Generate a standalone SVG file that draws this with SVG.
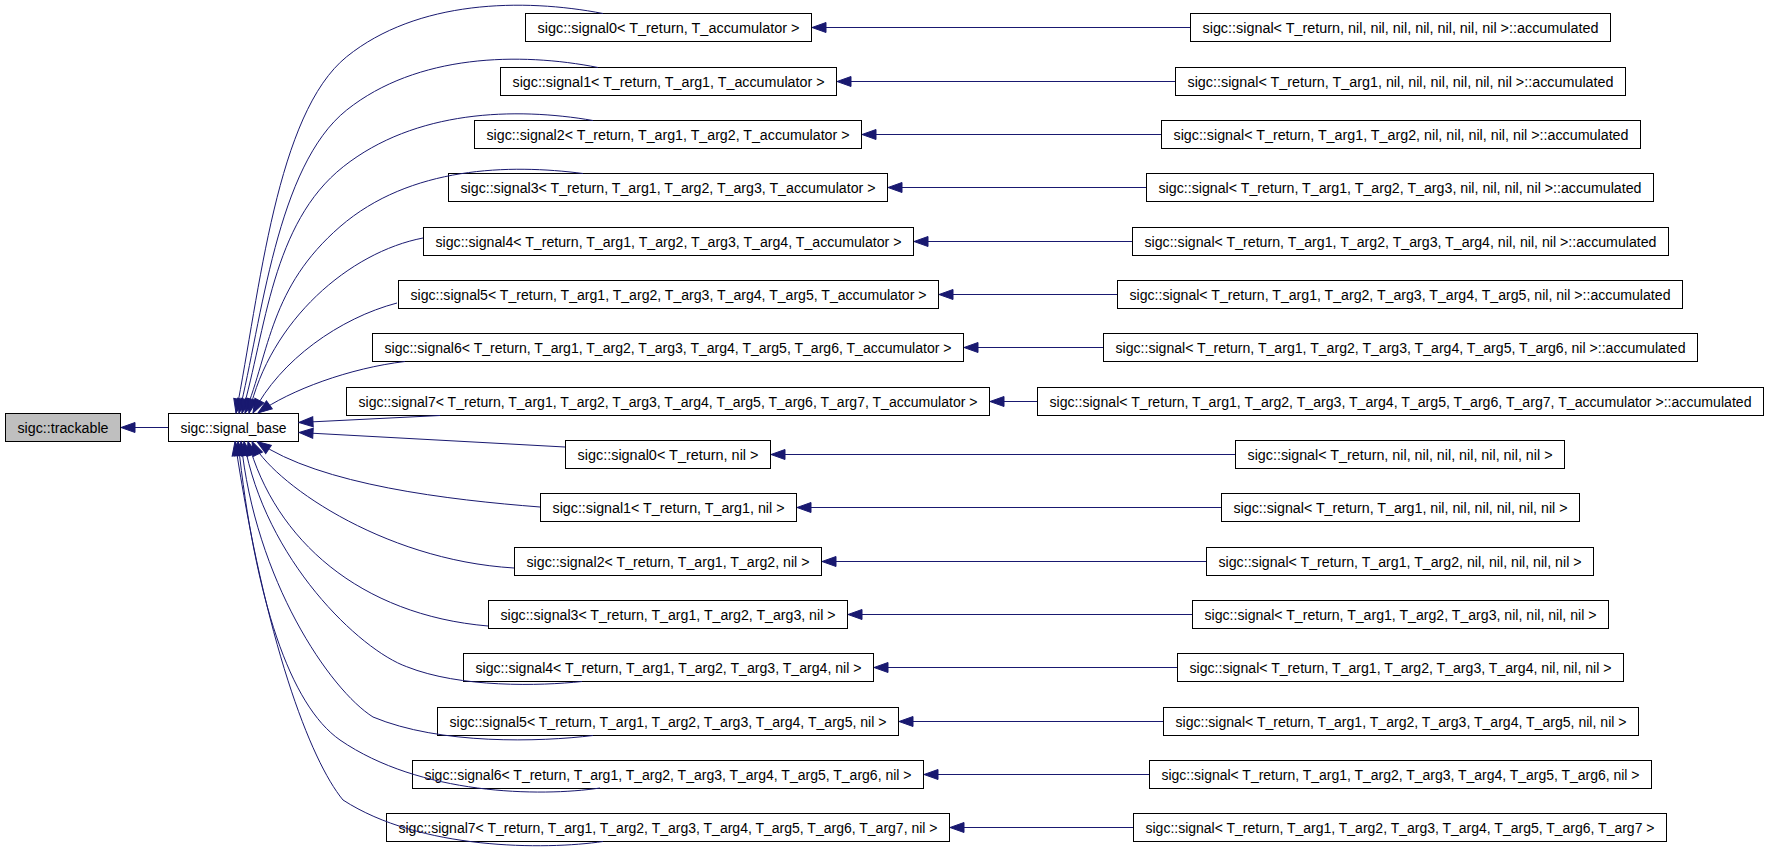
<svg xmlns="http://www.w3.org/2000/svg" width="1768" height="855" viewBox="0 0 1768 855">
<defs>
<style>
.node rect{fill:#ffffff;stroke:#000000;stroke-width:1}
.node.gray rect{fill:#bfbfbf}
.node text{font-family:"Liberation Sans",Arial,sans-serif;font-size:14px;fill:#000000;text-anchor:middle}
.edge{fill:none;stroke:#191970;stroke-width:1;marker-end:url(#arr)}
</style>
<marker id="arr" markerUnits="userSpaceOnUse" markerWidth="16" markerHeight="12" viewBox="0 0 16 12" refX="15" refY="6" orient="auto">
<path d="M1,1 L15,6 L1,11 z" fill="#191970" stroke="#191970" stroke-width="1"/>
</marker>
</defs>
<rect x="0" y="0" width="1768" height="855" fill="#ffffff"/>

<g id="n_trackable" class="node gray"><rect x="5.5" y="413.5" width="115" height="28"/><text x="63" y="433" textLength="91" lengthAdjust="spacingAndGlyphs">sigc::trackable</text></g>
<g id="n_signal_base" class="node"><rect x="168.5" y="413.5" width="130" height="28"/><text x="233.5" y="433" textLength="106" lengthAdjust="spacingAndGlyphs">sigc::signal_base</text></g>

<g id="n_s0acc" class="node"><rect x="525.5" y="13.5" width="286" height="28"/><text x="668.5" y="33" textLength="262" lengthAdjust="spacingAndGlyphs">sigc::signal0&lt; T_return, T_accumulator &gt;</text></g>
<g id="n_s1acc" class="node"><rect x="500.5" y="67.5" width="336" height="28"/><text x="668.5" y="87" textLength="312" lengthAdjust="spacingAndGlyphs">sigc::signal1&lt; T_return, T_arg1, T_accumulator &gt;</text></g>
<g id="n_s2acc" class="node"><rect x="474.5" y="120.5" width="387" height="28"/><text x="668" y="140" textLength="363" lengthAdjust="spacingAndGlyphs">sigc::signal2&lt; T_return, T_arg1, T_arg2, T_accumulator &gt;</text></g>
<g id="n_s3acc" class="node"><rect x="448.5" y="173.5" width="439" height="28"/><text x="668" y="193" textLength="415" lengthAdjust="spacingAndGlyphs">sigc::signal3&lt; T_return, T_arg1, T_arg2, T_arg3, T_accumulator &gt;</text></g>
<g id="n_s4acc" class="node"><rect x="423.5" y="227.5" width="490" height="28"/><text x="668.5" y="247" textLength="466" lengthAdjust="spacingAndGlyphs">sigc::signal4&lt; T_return, T_arg1, T_arg2, T_arg3, T_arg4, T_accumulator &gt;</text></g>
<g id="n_s5acc" class="node"><rect x="398.5" y="280.5" width="540" height="28"/><text x="668.5" y="300" textLength="516" lengthAdjust="spacingAndGlyphs">sigc::signal5&lt; T_return, T_arg1, T_arg2, T_arg3, T_arg4, T_arg5, T_accumulator &gt;</text></g>
<g id="n_s6acc" class="node"><rect x="372.5" y="333.5" width="591" height="28"/><text x="668" y="353" textLength="567" lengthAdjust="spacingAndGlyphs">sigc::signal6&lt; T_return, T_arg1, T_arg2, T_arg3, T_arg4, T_arg5, T_arg6, T_accumulator &gt;</text></g>
<g id="n_s7acc" class="node"><rect x="346.5" y="387.5" width="643" height="28"/><text x="668" y="407" textLength="619" lengthAdjust="spacingAndGlyphs">sigc::signal7&lt; T_return, T_arg1, T_arg2, T_arg3, T_arg4, T_arg5, T_arg6, T_arg7, T_accumulator &gt;</text></g>
<g id="n_s0nil" class="node"><rect x="565.5" y="440.5" width="205" height="28"/><text x="668" y="460" textLength="181" lengthAdjust="spacingAndGlyphs">sigc::signal0&lt; T_return, nil &gt;</text></g>
<g id="n_s1nil" class="node"><rect x="540.5" y="493.5" width="256" height="28"/><text x="668.5" y="513" textLength="232" lengthAdjust="spacingAndGlyphs">sigc::signal1&lt; T_return, T_arg1, nil &gt;</text></g>
<g id="n_s2nil" class="node"><rect x="514.5" y="547.5" width="307" height="28"/><text x="668" y="567" textLength="283" lengthAdjust="spacingAndGlyphs">sigc::signal2&lt; T_return, T_arg1, T_arg2, nil &gt;</text></g>
<g id="n_s3nil" class="node"><rect x="488.5" y="600.5" width="359" height="28"/><text x="668" y="620" textLength="335" lengthAdjust="spacingAndGlyphs">sigc::signal3&lt; T_return, T_arg1, T_arg2, T_arg3, nil &gt;</text></g>
<g id="n_s4nil" class="node"><rect x="463.5" y="653.5" width="410" height="28"/><text x="668.5" y="673" textLength="386" lengthAdjust="spacingAndGlyphs">sigc::signal4&lt; T_return, T_arg1, T_arg2, T_arg3, T_arg4, nil &gt;</text></g>
<g id="n_s5nil" class="node"><rect x="437.5" y="707.5" width="461" height="28"/><text x="668" y="727" textLength="437" lengthAdjust="spacingAndGlyphs">sigc::signal5&lt; T_return, T_arg1, T_arg2, T_arg3, T_arg4, T_arg5, nil &gt;</text></g>
<g id="n_s6nil" class="node"><rect x="412.5" y="760.5" width="511" height="28"/><text x="668" y="780" textLength="487" lengthAdjust="spacingAndGlyphs">sigc::signal6&lt; T_return, T_arg1, T_arg2, T_arg3, T_arg4, T_arg5, T_arg6, nil &gt;</text></g>
<g id="n_s7nil" class="node"><rect x="386.5" y="813.5" width="563" height="28"/><text x="668" y="833" textLength="539" lengthAdjust="spacingAndGlyphs">sigc::signal7&lt; T_return, T_arg1, T_arg2, T_arg3, T_arg4, T_arg5, T_arg6, T_arg7, nil &gt;</text></g>

<g id="n_r0acc" class="node"><rect x="1190.5" y="13.5" width="420" height="28"/><text x="1400.5" y="33" textLength="396" lengthAdjust="spacingAndGlyphs">sigc::signal&lt; T_return, nil, nil, nil, nil, nil, nil, nil &gt;::accumulated</text></g>
<g id="n_r1acc" class="node"><rect x="1175.5" y="67.5" width="450" height="28"/><text x="1400.5" y="87" textLength="426" lengthAdjust="spacingAndGlyphs">sigc::signal&lt; T_return, T_arg1, nil, nil, nil, nil, nil, nil &gt;::accumulated</text></g>
<g id="n_r2acc" class="node"><rect x="1161.5" y="120.5" width="479" height="28"/><text x="1401" y="140" textLength="455" lengthAdjust="spacingAndGlyphs">sigc::signal&lt; T_return, T_arg1, T_arg2, nil, nil, nil, nil, nil &gt;::accumulated</text></g>
<g id="n_r3acc" class="node"><rect x="1146.5" y="173.5" width="507" height="28"/><text x="1400" y="193" textLength="483" lengthAdjust="spacingAndGlyphs">sigc::signal&lt; T_return, T_arg1, T_arg2, T_arg3, nil, nil, nil, nil &gt;::accumulated</text></g>
<g id="n_r4acc" class="node"><rect x="1132.5" y="227.5" width="536" height="28"/><text x="1400.5" y="247" textLength="512" lengthAdjust="spacingAndGlyphs">sigc::signal&lt; T_return, T_arg1, T_arg2, T_arg3, T_arg4, nil, nil, nil &gt;::accumulated</text></g>
<g id="n_r5acc" class="node"><rect x="1117.5" y="280.5" width="565" height="28"/><text x="1400" y="300" textLength="541" lengthAdjust="spacingAndGlyphs">sigc::signal&lt; T_return, T_arg1, T_arg2, T_arg3, T_arg4, T_arg5, nil, nil &gt;::accumulated</text></g>
<g id="n_r6acc" class="node"><rect x="1103.5" y="333.5" width="594" height="28"/><text x="1400.5" y="353" textLength="570" lengthAdjust="spacingAndGlyphs">sigc::signal&lt; T_return, T_arg1, T_arg2, T_arg3, T_arg4, T_arg5, T_arg6, nil &gt;::accumulated</text></g>
<g id="n_r7acc" class="node"><rect x="1037.5" y="387.5" width="726" height="28"/><text x="1400.5" y="407" textLength="702" lengthAdjust="spacingAndGlyphs">sigc::signal&lt; T_return, T_arg1, T_arg2, T_arg3, T_arg4, T_arg5, T_arg6, T_arg7, T_accumulator &gt;::accumulated</text></g>
<g id="n_r0nil" class="node"><rect x="1235.5" y="440.5" width="329" height="28"/><text x="1400" y="460" textLength="305" lengthAdjust="spacingAndGlyphs">sigc::signal&lt; T_return, nil, nil, nil, nil, nil, nil, nil &gt;</text></g>
<g id="n_r1nil" class="node"><rect x="1221.5" y="493.5" width="358" height="28"/><text x="1400.5" y="513" textLength="334" lengthAdjust="spacingAndGlyphs">sigc::signal&lt; T_return, T_arg1, nil, nil, nil, nil, nil, nil &gt;</text></g>
<g id="n_r2nil" class="node"><rect x="1206.5" y="547.5" width="387" height="28"/><text x="1400" y="567" textLength="363" lengthAdjust="spacingAndGlyphs">sigc::signal&lt; T_return, T_arg1, T_arg2, nil, nil, nil, nil, nil &gt;</text></g>
<g id="n_r3nil" class="node"><rect x="1192.5" y="600.5" width="416" height="28"/><text x="1400.5" y="620" textLength="392" lengthAdjust="spacingAndGlyphs">sigc::signal&lt; T_return, T_arg1, T_arg2, T_arg3, nil, nil, nil, nil &gt;</text></g>
<g id="n_r4nil" class="node"><rect x="1177.5" y="653.5" width="446" height="28"/><text x="1400.5" y="673" textLength="422" lengthAdjust="spacingAndGlyphs">sigc::signal&lt; T_return, T_arg1, T_arg2, T_arg3, T_arg4, nil, nil, nil &gt;</text></g>
<g id="n_r5nil" class="node"><rect x="1163.5" y="707.5" width="475" height="28"/><text x="1401" y="727" textLength="451" lengthAdjust="spacingAndGlyphs">sigc::signal&lt; T_return, T_arg1, T_arg2, T_arg3, T_arg4, T_arg5, nil, nil &gt;</text></g>
<g id="n_r6nil" class="node"><rect x="1149.5" y="760.5" width="502" height="28"/><text x="1400.5" y="780" textLength="478" lengthAdjust="spacingAndGlyphs">sigc::signal&lt; T_return, T_arg1, T_arg2, T_arg3, T_arg4, T_arg5, T_arg6, nil &gt;</text></g>
<g id="n_r7nil" class="node"><rect x="1133.5" y="813.5" width="533" height="28"/><text x="1400" y="833" textLength="509" lengthAdjust="spacingAndGlyphs">sigc::signal&lt; T_return, T_arg1, T_arg2, T_arg3, T_arg4, T_arg5, T_arg6, T_arg7 &gt;</text></g>

<g id="connectors">
<path class="edge" d="M168,427.5 L121,427.5"/>

<path class="edge" d="M603,13.5 C523,-2 417,0 346.7,56.7 S260,290 236,413"/>
<path class="edge" d="M598,67.5 C520,52 417,54 346.7,110 S262,320 239,413"/>
<path class="edge" d="M593,120.5 C515,107 415,110 343.3,166.7 S266,330 242,413"/>
<path class="edge" d="M583,173.5 C510,164 410,166 340,226.7 S270,350 245,413"/>
<path class="edge" d="M423,238 C350,252 270,320 249,413"/>
<path class="edge" d="M397,303 C340,318 280,360 253,413"/>
<path class="edge" d="M405,361.5 C350,368 290,390 258,413"/>
<path class="edge" d="M440,415.5 L299,422.5"/>
<path class="edge" d="M565,447 L299,432.5"/>
<path class="edge" d="M540,507 C450,500 320,485 257,441.5"/>
<path class="edge" d="M514,568 C380,560 270,480 252,441.5"/>
<path class="edge" d="M488,626 C360,615 275,540 248,441.5"/>
<path class="edge" d="M582,681.5 C540,686 460,688 406.7,666.7 C360,650 265,560 244,441.5"/>
<path class="edge" d="M593,735.5 C540,742 440,745 373,717 C330,690 255,580 241,441.5"/>
<path class="edge" d="M600,788 C540,797 420,795 340,740 C290,705 255,600 238,441.5"/>
<path class="edge" d="M603,841.5 C545,850 420,850 343,800 C310,760 265,640 235,441.5"/>

<path class="edge" d="M1190,27.5 L812,27.5"/>
<path class="edge" d="M1175,81.5 L837,81.5"/>
<path class="edge" d="M1161,134.5 L862,134.5"/>
<path class="edge" d="M1146,187.5 L888,187.5"/>
<path class="edge" d="M1132,241.5 L914,241.5"/>
<path class="edge" d="M1117,294.5 L939,294.5"/>
<path class="edge" d="M1103,347.5 L964,347.5"/>
<path class="edge" d="M1037,401.5 L990,401.5"/>
<path class="edge" d="M1235,454.5 L771,454.5"/>
<path class="edge" d="M1221,507.5 L797,507.5"/>
<path class="edge" d="M1206,561.5 L822,561.5"/>
<path class="edge" d="M1192,614.5 L848,614.5"/>
<path class="edge" d="M1177,667.5 L874,667.5"/>
<path class="edge" d="M1163,721.5 L899,721.5"/>
<path class="edge" d="M1149,774.5 L924,774.5"/>
<path class="edge" d="M1133,827.5 L950,827.5"/>
</g>
</svg>
